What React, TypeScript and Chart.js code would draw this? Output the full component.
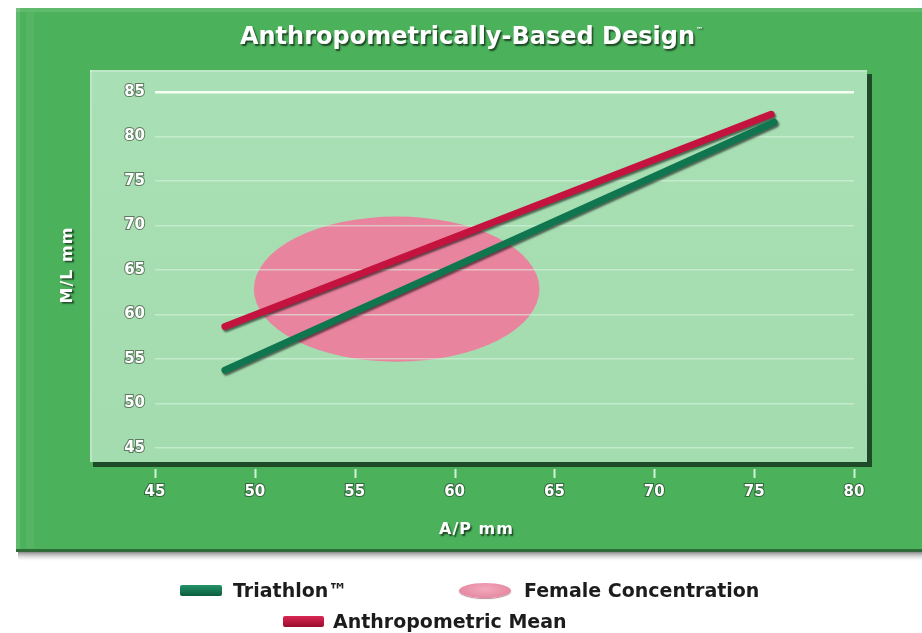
import React, { useEffect, useRef } from "react";
import { Chart, registerables } from "chart.js";

Chart.register(...registerables);

// ---- data ----
const chartTitle = "Anthropometrically-Based Design";
const xAxisTitle = "A/P mm";
const yAxisTitle = "M/L mm";
const xTickValues = [45, 50, 55, 60, 65, 70, 75, 80];
const yTickValues = [45, 50, 55, 60, 65, 70, 75, 80, 85];
const seriesNames = ["Triathlon™", "Female Concentration", "Anthropometric Mean"];

const triathlonAP = [48.5, 76.0];
const triathlonML = [53.75, 81.6];
const meanAP = [48.5, 75.85];
const meanML = [58.65, 82.5];

// Female concentration ellipse: centre (A/P, M/L) and radii (A/P, M/L)
const femaleCenter = [57.1, 62.85];
const femaleRadius = [7.15, 8.15];

const FONT = "'DejaVu Sans', 'Liberation Sans', sans-serif";

const backdropPlugin = {
  id: "backdrop",
  beforeDraw(chart: any) {
    const { ctx, chartArea: ca, scales } = chart;
    const W = chart.width;
    ctx.save();
    ctx.fillStyle = "#ffffff";
    ctx.fillRect(0, 0, W, chart.height);

    // outer green panel with drop shadow
    const oTop = ca.top - 84;
    const oBottom = ca.bottom + 104;
    const oLeft = 16;
    const g = ctx.createLinearGradient(0, oBottom, 0, oBottom + 9);
    g.addColorStop(0, "rgba(60,60,60,0.6)");
    g.addColorStop(1, "rgba(200,200,200,0)");
    ctx.fillStyle = g;
    ctx.fillRect(oLeft + 2, oBottom, W - oLeft, 9);
    ctx.fillStyle = "#2f6b38";
    ctx.fillRect(oLeft, oBottom - 3, W - oLeft, 3);
    ctx.fillStyle = "#4bb15b";
    ctx.fillRect(oLeft, oTop, W - oLeft, oBottom - oTop - 3);
    ctx.fillStyle = "rgba(255,255,255,0.12)";
    ctx.fillRect(oLeft, oTop, W - oLeft, 4);
    ctx.fillRect(oLeft, oTop, 4, oBottom - oTop - 3);
    ctx.fillStyle = "rgba(255,255,255,0.06)";
    ctx.fillRect(oLeft + 10, oTop + 4, 8, oBottom - oTop - 8);

    // inner light panel with shadow
    const iLeft = ca.left - 65;
    const iTop = ca.top - 22;
    const iRight = ca.right + 13;
    const iBottom = ca.bottom + 14;
    ctx.fillStyle = "#1f4a27";
    ctx.fillRect(iLeft + 3, iTop + 4, iRight - iLeft + 2, iBottom - iTop + 1);
    const ig = ctx.createLinearGradient(0, iTop, 0, iBottom);
    ig.addColorStop(0, "#a9dfb4");
    ig.addColorStop(1, "#a3dcae");
    ctx.fillStyle = ig;
    ctx.fillRect(iLeft, iTop, iRight - iLeft, iBottom - iTop);
    ctx.fillStyle = "rgba(255,255,255,0.25)";
    ctx.fillRect(iLeft, iTop, iRight - iLeft, 2);
    ctx.fillRect(iLeft, iTop, 2, iBottom - iTop);

    // female concentration ellipse (through the scales)
    const xs = scales.x;
    const ys = scales.y;
    const cx = xs.getPixelForValue(femaleCenter[0]);
    const cy = ys.getPixelForValue(femaleCenter[1]);
    const rx = Math.abs(xs.getPixelForValue(femaleCenter[0] + femaleRadius[0]) - cx);
    const ry = Math.abs(ys.getPixelForValue(femaleCenter[1] + femaleRadius[1]) - cy);
    ctx.beginPath();
    ctx.ellipse(cx, cy, rx, ry, 0, 0, Math.PI * 2);
    ctx.fillStyle = "#e9849f";
    ctx.fill();
    ctx.restore();
  },
  beforeDatasetDraw(chart: any) {
    const ctx = chart.ctx;
    ctx.save();
    ctx.shadowColor = "rgba(0,0,0,0.55)";
    ctx.shadowOffsetX = 1.5;
    ctx.shadowOffsetY = 2;
    ctx.shadowBlur = 2;
  },
  afterDatasetDraw(chart: any) {
    chart.ctx.restore();
  },
  afterDraw(chart: any) {
    const { ctx, chartArea: ca, scales } = chart;
    ctx.save();
    // x tick marks below the inner panel
    ctx.strokeStyle = "rgba(235,255,238,0.85)";
    ctx.lineWidth = 2;
    for (const v of xTickValues) {
      const px = Math.round(scales.x.getPixelForValue(v)) + 0.5;
      ctx.beginPath();
      ctx.moveTo(px, ca.bottom + 21);
      ctx.lineTo(px, ca.bottom + 30);
      ctx.stroke();
    }

    ctx.shadowColor = "rgba(0,0,0,0.6)";
    ctx.shadowOffsetX = 1.5;
    ctx.shadowOffsetY = 1.5;
    ctx.shadowBlur = 1.5;
    ctx.fillStyle = "#ffffff";
    ctx.textBaseline = "middle";

    // title
    ctx.font = `bold 24px ${FONT}`;
    (ctx as any).letterSpacing = "0px";
    ctx.textAlign = "center";
    const tx = (ca.left + ca.right) / 2 - 37;
    ctx.fillText(chartTitle, tx, ca.top - 54);
    const tw = ctx.measureText(chartTitle).width;
    ctx.font = `bold 7px ${FONT}`;
    ctx.textAlign = "left";
    ctx.fillText("™", tx + tw / 2 + 1, ca.top - 62);

    // axis titles
    ctx.font = `bold 16px ${FONT}`;
    (ctx as any).letterSpacing = "1px";
    ctx.textAlign = "center";
    ctx.fillText(xAxisTitle, (ca.left + ca.right) / 2 - 28, ca.bottom + 82);
    ctx.save();
    ctx.translate(ca.left - 87, (ca.top + ca.bottom) / 2 - 5);
    ctx.rotate(-Math.PI / 2);
    ctx.fillText(yAxisTitle, 0, 0);
    ctx.restore();
    ctx.restore();
  },
};

const tickFont = { family: FONT, size: 15, weight: "bold" as const };

export default function App() {
  const canvasRef = useRef<HTMLCanvasElement | null>(null);

  useEffect(() => {
    document.body.style.margin = "0";
    const canvas = canvasRef.current;
    if (!canvas) return;
    const chart = new Chart(canvas, {
      type: "scatter",
      data: {
        datasets: [
          {
            label: seriesNames[0],
            data: triathlonAP.map((x, i) => ({ x, y: triathlonML[i] })),
            showLine: true,
            borderColor: "#0f7650",
            backgroundColor: "#0f7650",
            borderWidth: 7,
            borderCapStyle: "round",
            pointRadius: 0,
          },
          {
            label: seriesNames[2],
            data: meanAP.map((x, i) => ({ x, y: meanML[i] })),
            showLine: true,
            borderColor: "#c5133f",
            backgroundColor: "#c5133f",
            borderWidth: 7,
            borderCapStyle: "round",
            pointRadius: 0,
          },
        ],
      },
      options: {
        animation: false,
        responsive: false,
        devicePixelRatio: 1,
        layout: { padding: { left: 56, right: 68, top: 92, bottom: 91 } },
        plugins: {
          legend: { display: false },
          tooltip: { enabled: false },
          title: { display: false },
        },
        scales: {
          x: {
            type: "linear",
            min: xTickValues[0],
            max: xTickValues[xTickValues.length - 1],
            afterBuildTicks: (s: any) => {
              s.ticks = xTickValues.map((v) => ({ value: v }));
            },
            afterFit: (s: any) => {
              s.height = 94;
            },
            grid: { display: false, drawTicks: false },
            border: { display: false },
            ticks: {
              font: tickFont,
              color: "#ffffff",
              textStrokeColor: "rgba(40,70,45,0.7)",
              textStrokeWidth: 2,
              padding: 35,
              maxRotation: 0,
            },
          },
          y: {
            type: "linear",
            min: yTickValues[0],
            max: yTickValues[yTickValues.length - 1],
            afterBuildTicks: (s: any) => {
              s.ticks = yTickValues.map((v) => ({ value: v }));
            },
            afterFit: (s: any) => {
              s.width = 99;
            },
            grid: {
              drawTicks: false,
              color: (c: any) =>
                c.tick && c.tick.value === 85 ? "rgba(248,255,249,0.95)" : "rgba(220,248,226,0.55)",
              lineWidth: (c: any) => (c.tick && c.tick.value === 85 ? 2.5 : 1.5),
            },
            border: { display: false },
            ticks: {
              font: tickFont,
              color: "#ffffff",
              textStrokeColor: "rgba(60,80,60,0.7)",
              textStrokeWidth: 2,
              padding: 10,
            },
          },
        },
      },
      plugins: [backdropPlugin],
    } as any);
    return () => chart.destroy();
  }, []);

  const legendText: React.CSSProperties = {
    position: "absolute",
    fontFamily: FONT,
    fontWeight: "bold",
    fontSize: 19,
    lineHeight: "22px",
    color: "#1c1c1c",
    whiteSpace: "nowrap",
  };

  return (
    <div style={{ position: "relative", width: 922, height: 633, overflow: "hidden", background: "#fff" }}>
      <canvas ref={canvasRef} width={922} height={633} style={{ display: "block" }} />
      <div
        style={{
          position: "absolute",
          left: 180,
          top: 585,
          width: 42,
          height: 11,
          borderRadius: 2,
          background: "linear-gradient(#23936a, #0b5d3c)",
        }}
      />
      <div style={{ ...legendText, left: 233, top: 579 }}>{seriesNames[0]}</div>
      <div
        style={{
          position: "absolute",
          left: 459,
          top: 583,
          width: 52,
          height: 15,
          borderRadius: "50%",
          background: "radial-gradient(ellipse at 50% 40%, #f3a9bd, #e07d98)",
          boxShadow: "0 1px 1px rgba(120,40,60,0.5)",
        }}
      />
      <div style={{ ...legendText, left: 524, top: 579 }}>{seriesNames[1]}</div>
      <div
        style={{
          position: "absolute",
          left: 283,
          top: 616,
          width: 41,
          height: 11,
          borderRadius: 2,
          background: "linear-gradient(#d92752, #9a0c30)",
        }}
      />
      <div style={{ ...legendText, left: 333, top: 610 }}>{seriesNames[2]}</div>
    </div>
  );
}
